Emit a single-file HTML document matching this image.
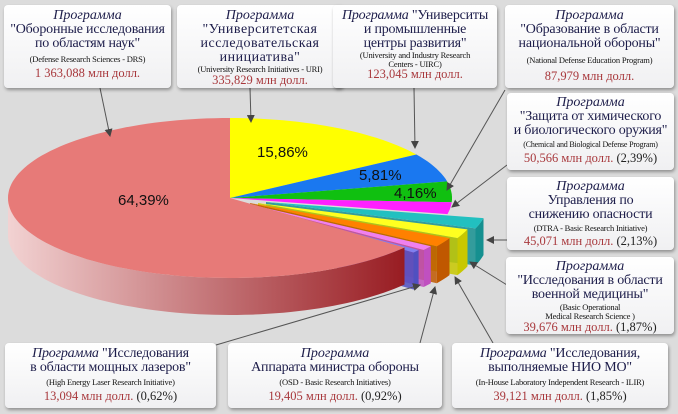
<!DOCTYPE html>
<html><head><meta charset="utf-8">
<style>
body{margin:0;width:678px;height:414px;overflow:hidden;background:#dcdcdc;font-family:"Liberation Serif",serif;}
.b{position:absolute;background:linear-gradient(#ffffff,#f0f0f2);border-radius:4px;box-shadow:1px 2px 3px rgba(0,0,0,.35);text-align:center;color:#1d1d4a;line-height:1.0;box-sizing:border-box;padding-top:3px;overflow:hidden;white-space:nowrap}
.i{font-style:italic;font-size:14px}
.m{font-size:14px;letter-spacing:-0.2px}
.e{font-size:8.5px;color:#111;margin:2px 0 1px;letter-spacing:-0.2px}
.r{font-size:12.5px;color:#a8383c}
.r span{color:#222}
svg{position:absolute;left:0;top:0}
.p{font-family:"Liberation Sans",sans-serif;font-size:15px;fill:#111}
</style></head><body>
<svg id="s" width="678" height="414"></svg>
<div class="b" style="left:4px;top:5px;width:167px;height:83px;padding-top:4px"><div class="i">Программа</div><div class="m">"Оборонные исследования<br>по областям наук"</div><div class="e" style="margin:4px 0 3px">(Defense Research Sciences - DRS)</div><div class="r">1 363,088 млн долл.</div></div>
<div class="b" style="left:177px;top:5px;width:166px;height:83px;padding-top:4px"><div class="i">Программа</div><div class="m" style="letter-spacing:.5px">"Университетская<br>исследовательская<br>инициатива"</div><div class="e" style="margin:0">(University Research Initiatives - URI)</div><div class="r">335,829 млн долл.</div></div>
<div class="b" style="left:333px;top:5px;width:164px;height:83px;padding-top:4px"><div class="m"><i>Программа</i> "Университы<br>и промышленные<br>центры развития"</div><div class="e" style="margin:0">(University and Industry Research<br>Centers  - UIRC)</div><div class="r">123,045 млн долл.</div></div>
<div class="b" style="left:505px;top:5px;width:169px;height:83px;padding-top:4px"><div class="i">Программа</div><div class="m">"Образование в области<br>национальной обороны"</div><div class="e" style="margin:5px 0">(National Defense Education Program)</div><div class="r">87,979 млн долл.</div></div>
<div class="b" style="left:507px;top:93px;width:167px;height:77px"><div class="i">Программа</div><div class="m">"Защита от химического<br>и биологического оружия"</div><div class="e" style="font-size:8px;margin:3px 0">(Chemical and Biological Defense Program)</div><div class="r">50,566 млн долл. <span>(2,39%)</span></div></div>
<div class="b" style="left:507px;top:177px;width:167px;height:73px"><div class="i">Программа</div><div class="m">Управления по<br>снижению опасности</div><div class="e" style="margin:2px 0">(DTRA - Basic Research Initiative)</div><div class="r">45,071 млн долл. <span>(2,13%)</span></div></div>
<div class="b" style="left:506px;top:257px;width:168px;height:77px"><div class="i">Программа</div><div class="m">"Исследования в области<br>военной медицины"</div><div class="e" style="margin:1px 0">(Basic Operational<br>Medical Research  Science )</div><div class="r">39,676 млн долл. <span>(1,87%)</span></div></div>
<div class="b" style="left:5px;top:343px;width:211px;height:65px;padding-top:4px"><div class="m"><i>Программа</i> "Исследования<br>в области мощных лазеров"</div><div class="e" style="margin:3px 0">(High Energy Laser Research Initiative)</div><div class="r">13,094 млн долл. <span>(0,62%)</span></div></div>
<div class="b" style="left:228px;top:343px;width:214px;height:65px;padding-top:4px"><div class="i">Программа</div><div class="m">Аппарата министра обороны</div><div class="e" style="margin:3px 0">(OSD - Basic Research Initiatives)</div><div class="r">19,405 млн долл. <span>(0,92%)</span></div></div>
<div class="b" style="left:452px;top:343px;width:216px;height:65px;padding-top:4px"><div class="m"><i>Программа</i> "Исследования,<br>выполняемые НИО МО"</div><div class="e" style="margin:3px 0">(In-House Laboratory Independent  Research - ILIR)</div><div class="r">39,121 млн долл. <span>(1,85%)</span></div></div>
<script>
(function(){
var cx=230,cy=198,rx=222,ry=80,D=37;
var s=document.getElementById('s'),h='';
h+='<defs><linearGradient id="g" x1="0" x2="1"><stop offset="0" stop-color="#f2d2d2"/><stop offset="1" stop-color="#981c22"/></linearGradient><marker id="a" markerWidth="8" markerHeight="8" refX="7" refY="4" orient="auto"><path d="M0,0L8,4L0,8z" fill="#444"/></marker></defs>';
function P(a,ox,oy,dy){a=a*Math.PI/180;return [cx+ox+rx*Math.cos(a),cy+oy-ry*Math.sin(a)+(dy||0)];}
function arc(a1,a2,ox,oy,dy){var pts=[];var n=Math.max(4,Math.ceil(Math.abs(a2-a1)/2));for(var i=0;i<=n;i++){pts.push(P(a1+(a2-a1)*i/n,ox,oy,dy));}return pts;}
function pp(pts){return pts.map(function(p){return p[0].toFixed(1)+','+p[1].toFixed(1)}).join(' ');}
function wedge(a1,a2,ox,oy,c){return '<polygon points="'+pp([[cx+ox,cy+oy]].concat(arc(a1,a2,ox,oy,0)))+'" fill="'+c+'"/>';}
var ex=[[-19.3,-11.6,36,4,'#22c0c0','#159090'],[-26,-19.3,28,5,'#ffff20','#c8c800'],[-32.7,-26,20,5,'#ff8000','#c05800'],[-36,-32.7,14,5,'#f080f0','#c050c0'],[-38.2,-36,9,5,'#8080f0','#5050c0']];
ex.forEach(function(e){
 var t=arc(e[0],e[1],e[2],e[3],0),b=arc(e[1],e[0],e[2],e[3],D);
 h+='<polygon points="'+pp(t.concat(b))+'" fill="'+e[5]+'"/>';
 var p=P(e[0],e[2],e[3],0),q=P(e[0]+0.5,e[2]-30*Math.cos(e[0]*Math.PI/180),e[3]+10,0);
 h+='<polygon points="'+pp([[cx+e[2],cy+e[3]],p,[p[0],p[1]+D],[cx+e[2],cy+e[3]+D]])+'" fill="'+e[5]+'" opacity=".85"/>';
 h+=wedge(e[0],e[1],e[2],e[3],e[4]);
});
var tp=arc(180,321.8,0,0,0),bt=arc(321.8,180,0,0,D);
h+='<polygon points="'+pp(tp.concat(bt))+'" fill="url(#g)"/>';
h+=wedge(90,321.8,0,0,'#e77a78');
h+=wedge(32.9,90,0,0,'#ffff00');
h+=wedge(12,32.9,0,0,'#1a78f0');
h+=wedge(-3,12,0,0,'#10c010');
h+=wedge(-11.6,-3,0,0,'#ff20ff');
h+='<text class="p" x="118" y="205">64,39%</text><text class="p" x="257" y="157">15,86%</text><text class="p" x="359" y="180">5,81%</text><text class="p" x="394" y="198">4,16%</text>';
var L=[[100,88,110,136],[250,88,251,122],[414,88,415,148],[505,90,447,190],[507,165,452,207],[507,240,487,240],[507,285,470,262],[493,343,455,277],[420,343,435,287],[216,345,420,285]];
L.forEach(function(l){h+='<line x1="'+l[0]+'" y1="'+l[1]+'" x2="'+l[2]+'" y2="'+l[3]+'" stroke="#555" stroke-width="1" marker-end="url(#a)"/>';});
s.innerHTML=h;
})();
</script>
</body></html>
